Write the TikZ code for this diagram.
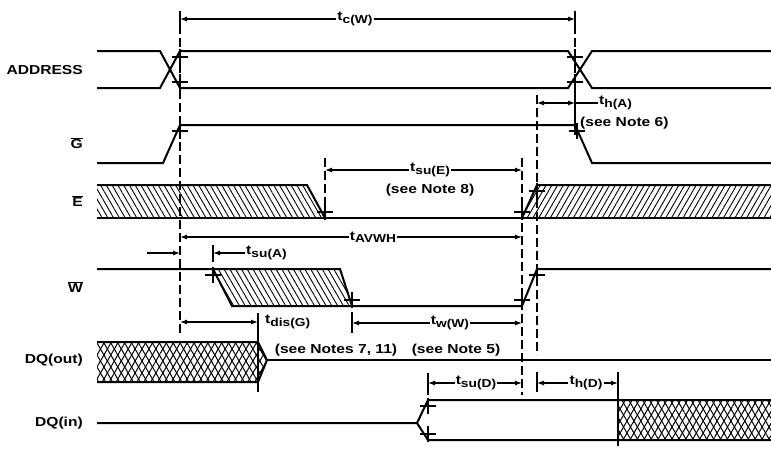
\documentclass[tikz,border=0pt]{standalone}
\usepackage{fontspec}
\setmainfont[FakeStretch=1.2]{Liberation Sans}
\usetikzlibrary{arrows.meta,patterns.meta}
\newcommand{\tsb}[1]{t\raisebox{-0.35ex}{\fontsize{11.5}{12}\selectfont #1}}
\newcommand{\ovsig}[1]{$\overline{\mbox{#1}}$}
\newcommand{\tk}[1]{\draw[tkline] (#1) +(-8,0) -- +(8,0) (#1) +(0,-8) -- +(0,8);}
\tikzset{
  sig/.style={line width=2pt},
  dim/.style={line width=1.1pt},
  tkline/.style={line width=1.7pt},
  tim/.style={line width=1.4pt,dash pattern=on 9pt off 4pt},
  lbl/.style={font=\fontsize{13}{15}\selectfont\bfseries,inner sep=1pt},
  arr/.style={dim,-{Latex[length=7pt,width=5pt]}},
  darr/.style={dim,{Latex[length=7pt,width=5pt]}-{Latex[length=7pt,width=5pt]}},
  hatchl/.style={pattern={Lines[angle=-60,distance=5pt,line width=0.9pt]}},
  hatchr/.style={pattern={Lines[angle=60,distance=5pt,line width=0.9pt]}},
  crossl/.style={pattern={Lines[angle=-60,distance=6pt,line width=1pt]}},
  crossr/.style={pattern={Lines[angle=60,distance=6pt,line width=1pt]}}
}
\begin{document}
\begin{tikzpicture}[x=1pt,y=-1pt]
        \def\xl{97} \def\xr{771}
        \useasboundingbox (0,0) rectangle (771,451);

        \coordinate (tA) at (180,0); \coordinate (tB) at (575,0);
        \coordinate (tC) at (325,0); \coordinate (tD) at (522,0);
        \coordinate (tE) at (537,0); \coordinate (tF) at (213,0);
        \coordinate (tG) at (352,0); \coordinate (tH) at (258,0);
        \coordinate (tI) at (428,0); \coordinate (tJ) at (618,0);

        % signal names
        \node[lbl,anchor=east] (adr) at (84,70) {ADDRESS};
        \node[lbl,anchor=east] (gsig) at (84,143) {\ovsig{G}};
        \node[lbl,anchor=east] (esig) at (84,201) {\ovsig{E}};
        \node[lbl,anchor=east] (wsig) at (84,287) {\ovsig{W}};
        \node[lbl,anchor=east] (dqo) at (84,360) {DQ(out)};
        \node[lbl,anchor=east] (dqi) at (84,423) {DQ(in)};

        % hatched regions
        \fill[hatchl] (\xl,185) -- (307,185) -- (325,218) -- (\xl,218) -- cycle;
        \fill[hatchr] (537,185) -- (\xr,185) -- (\xr,218) -- (522,218) -- cycle;
        \fill[hatchl] (213,269) -- (340,269) -- (352,306) -- (232,306) -- cycle;
        \fill[crossl] (\xl,342) -- (258,342) -- (267,360) -- (258,382) -- (\xl,382) -- cycle;
        \fill[crossr] (\xl,342) -- (258,342) -- (267,360) -- (258,382) -- (\xl,382) -- cycle;
        \fill[crossl] (618,400) rectangle (\xr,440);
        \fill[crossr] (618,400) rectangle (\xr,440);

        % waveforms
        \draw[sig] (\xl,51) -- (160,51) -- (180,88) -- (568,88) -- (592,51) -- (\xr,51);
        \draw[sig] (\xl,88) -- (160,88) -- (180,51) -- (568,51) -- (592,88) -- (\xr,88);
        \draw[sig] (\xl,163) -- (163,163) -- (180,125) -- (575,125) -- (592,163) -- (\xr,163);
        \draw[sig] (\xl,185) -- (307,185) -- (325,218);
        \draw[sig] (\xl,218) -- (\xr,218);
        \draw[sig] (522,218) -- (537,185) -- (\xr,185);
        \draw[sig] (\xl,269) -- (340,269) -- (352,306) -- (522,306) -- (537,269) -- (\xr,269);
        \draw[sig] (213,269) -- (232,306) -- (352,306);
        \draw[sig] (\xl,342) -- (258,342) -- (267,360) -- (258,382) -- (\xl,382);
        \draw[sig] (267,360) -- (\xr,360);
        \draw[sig] (\xl,423) -- (417,423) -- (428,400) -- (\xr,400);
        \draw[sig] (417,423) -- (428,440) -- (\xr,440);

        % timing references
        \draw[tim] (180,12) -- (180,335);
        \draw[tim] (575,12) -- (575,100);
        \draw[tim] (325,158) -- (325,222);
        \draw[tim] (522,158) -- (522,395);
        \draw[tim] (537,95) -- (537,355);
        \draw[dim] (180,11) -- (180,28);
        \draw[dim] (575,11) -- (575,27);
        \draw[dim] (575,97) -- (575,135);
        \draw[dim] (213,245) -- (213,262);
        \draw[dim] (258,313) -- (258,392);
        \draw[dim] (352,312) -- (352,333);
        \draw[dim] (428,373) -- (428,395);
        \draw[dim] (537,372) -- (537,392);
        \draw[dim] (618,372) -- (618,446);
        \tk{180,57} \tk{180,82} \tk{180,131}
        \tk{575,57} \tk{575,82} \tk{577,131}
        \tk{325,212} \tk{522,212} \tk{537,191}
        \tk{213,275} \tk{352,300} \tk{522,300} \tk{537,275}
        \tk{428,406} \tk{428,434}

        % intervals
        \node[lbl] (tcw) at (355,19) {\tsb{c(W)}};
        \draw[arr] (tcw) -- (tcw -| tA);
        \draw[arr] (tcw) -- (tcw -| tB);

        \node[lbl,anchor=west] (tha) at (598,103) {\tsb{h(A)}};
        \node[lbl,anchor=west] (n6) at (579,123) {(see Note 6)};
        \draw[darr] (tha -| tE) -- (tha -| tB);
        \draw[dim] (tha -| tB) -- (tha);

        \node[lbl] (tsue) at (430,170) {\tsb{su(E)}};
        \node[lbl] (n8) at (430,190) {(see Note 8)};
        \draw[arr] (tsue) -- (tsue -| tC);
        \draw[arr] (tsue) -- (tsue -| tD);

        \node[lbl] (tavwh) at (373,237) {\tsb{AVWH}};
        \draw[arr] (tavwh) -- (tavwh -| tA);
        \draw[arr] (tavwh) -- (tavwh -| tD);

        \node[lbl,anchor=west] (tsua) at (245,253) {\tsb{su(A)}};
        \draw[arr] (tsua) -- (tsua -| tF);
        \draw[arr] ([xshift=-33pt]tsua -| tA) -- (tsua -| tA);

        \node[lbl,anchor=west] (tdg) at (264,322) {\tsb{dis(G)}};
        \draw[darr] (tdg -| tA) -- (tdg -| tH);
        \node[lbl] (n711) at (336,350) {(see Notes 7, 11)};

        \node[lbl] (tww) at (450,323) {\tsb{w(W)}};
        \draw[arr] (tww) -- (tww -| tG);
        \draw[arr] (tww) -- (tww -| tD);
        \node[lbl] (n5) at (456,350) {(see Note 5)};

        \node[lbl] (tsud) at (476,383) {\tsb{su(D)}};
        \draw[arr] (tsud) -- (tsud -| tI);
        \draw[arr] (tsud) -- (tsud -| tD);

        \node[lbl] (thd) at (586,383) {\tsb{h(D)}};
        \draw[arr] (thd) -- (thd -| tE);
        \draw[arr] (thd) -- (thd -| tJ);
\end{tikzpicture}
\end{document}
